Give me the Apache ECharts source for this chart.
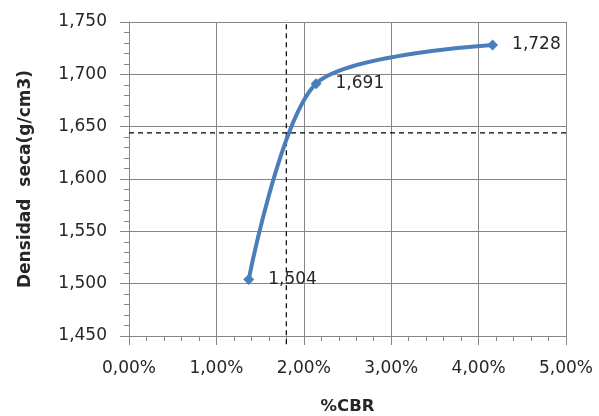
<!DOCTYPE html>
<html>
<head>
<meta charset="utf-8">
<script src="https://cdn.jsdelivr.net/npm/echarts@6/dist/echarts.min.js"></script>
<style>
  html, body { margin: 0; padding: 0; background: #ffffff; }
  #chart { width: 599px; height: 416px; }
</style>
</head>
<body>
<div id="chart"></div>
<script>
// Compaction test: CBR (%) against dry density (g/cm3)
const cbrPercent = [1.37, 2.14, 4.16];
const dryDensity = [1.504, 1.691, 1.728];

// Design reference read on the curve
const refCbr = 1.80;
const refDensity = 1.644;

// Axis ranges
const xMin = 0, xMax = 5, xStep = 1;
const yMin = 1.45, yMax = 1.75, yStep = 0.05;

const fmtComma = (v, d) => v.toFixed(d).replace('.', ',');

const textColor = '#262626';
const gridColor = '#868686';
const lineBlue = '#4a7ebb';
const fontFam = '"DejaVu Sans", Verdana, sans-serif';

const chart = echarts.init(document.getElementById('chart'), null, { renderer: 'canvas' });

chart.setOption({
  animation: false,
  backgroundColor: '#ffffff',
  grid: { left: 129, right: 33, top: 22, bottom: 80, containLabel: false, outerBoundsMode: 'none' },
  xAxis: {
    type: 'value',
    min: xMin, max: xMax, interval: xStep,
    name: '%CBR',
    nameLocation: 'middle',
    nameGap: 62,
    nameTextStyle: { color: textColor, fontFamily: fontFam, fontWeight: 'bold', fontSize: 16.5 },
    axisLine: { show: true, lineStyle: { color: gridColor, width: 1 } },
    axisTick: { show: true, inside: false, length: 9, lineStyle: { color: gridColor } },
    minorTick: { show: true, splitNumber: 5, length: 5, lineStyle: { color: gridColor } },
    splitLine: { show: true, lineStyle: { color: gridColor, width: 1 } },
    axisLabel: {
      color: textColor, fontFamily: fontFam, fontSize: 17, margin: 24,
      formatter: v => fmtComma(v, 2) + '%'
    }
  },
  yAxis: {
    type: 'value',
    min: yMin, max: yMax, interval: yStep,
    name: 'Densidad  seca(g/cm3)',
    nameLocation: 'middle',
    nameGap: 95,
    nameTextStyle: { color: textColor, fontFamily: fontFam, fontWeight: 'bold', fontSize: 17 },
    axisLine: { show: true, lineStyle: { color: gridColor, width: 1 } },
    axisTick: { show: true, inside: false, length: 9, lineStyle: { color: gridColor } },
    minorTick: { show: true, splitNumber: 5, length: 5, lineStyle: { color: gridColor } },
    splitLine: { show: true, lineStyle: { color: gridColor, width: 1 } },
    axisLabel: {
      color: textColor, fontFamily: fontFam, fontSize: 17, margin: 22,
      padding: [4, 0, 0, 0],
      formatter: v => fmtComma(v, 3)
    }
  },
  series: [
    {
      // vertical guide at the design CBR
      type: 'line',
      clip: false,
      silent: true,
      symbol: 'none',
      data: [[refCbr, yMin - 0.008], [refCbr, yMax + 0.002]],
      lineStyle: { color: '#000000', width: 1.2, type: [5, 4] },
      z: 3
    },
    {
      // horizontal guide at the design density
      type: 'line',
      clip: false,
      silent: true,
      symbol: 'none',
      data: [[xMin, refDensity], [xMax + 0.14, refDensity]],
      lineStyle: { color: '#000000', width: 1.2, type: [5, 4] },
      z: 3
    },
    {
      type: 'line',
      data: cbrPercent.map((x, i) => [x, dryDensity[i]]),
      smooth: 0.27,
      symbol: 'diamond',
      symbolSize: 11,
      itemStyle: { color: lineBlue },
      lineStyle: { color: lineBlue, width: 4 },
      label: {
        show: true,
        position: 'right',
        distance: 14,
        padding: [4, 0, 0, 0],
        color: textColor,
        fontFamily: fontFam,
        fontSize: 17,
        formatter: p => fmtComma(p.value[1], 3)
      },
      z: 5
    }
  ]
});
</script>
</body>
</html>
